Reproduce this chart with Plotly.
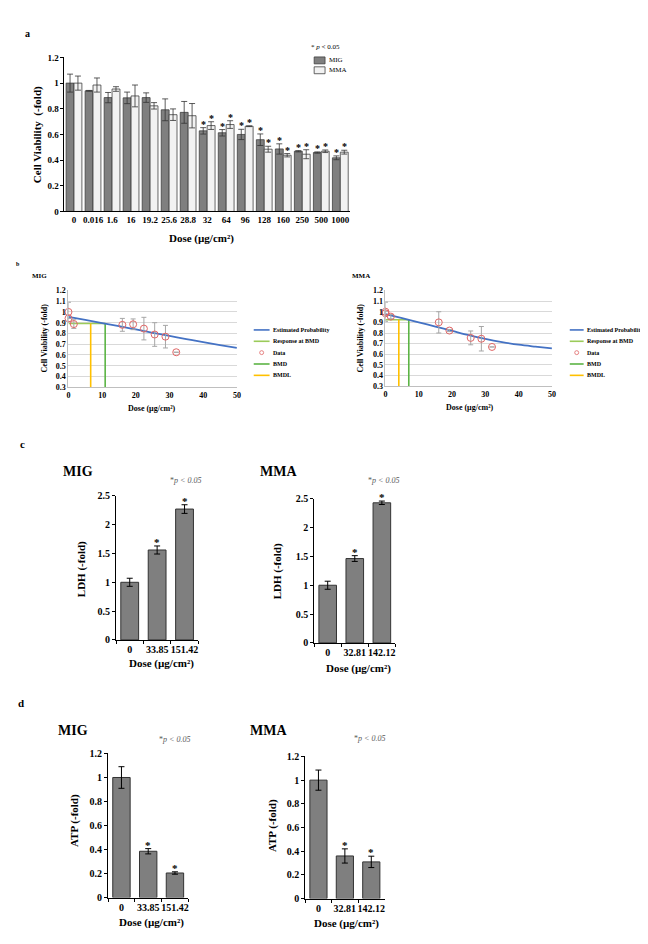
import plotly.graph_objects as go

W, H = 648, 944
SERIF = "Liberation Serif"

# ---- panel a: cell viability (MIG vs MMA)
doses_a = ["0", "0.016", "1.6", "16", "19.2", "25.6", "28.8", "32", "64", "96",
           "128", "160", "250", "500", "1000"]
mig_a = [1.0, 0.94, 0.887, 0.885, 0.887, 0.792, 0.772, 0.628, 0.613, 0.6,
         0.559, 0.487, 0.469, 0.459, 0.418]
mig_a_err = [0.07, 0.003, 0.04, 0.045, 0.037, 0.085, 0.085, 0.025, 0.025, 0.04,
             0.045, 0.04, 0.005, 0.005, 0.015]
mma_a = [1.0, 0.985, 0.954, 0.9, 0.823, 0.754, 0.746, 0.669, 0.677, 0.664,
         0.485, 0.438, 0.446, 0.469, 0.462]
mma_a_err = [0.055, 0.055, 0.018, 0.085, 0.025, 0.045, 0.095, 0.03, 0.03, 0.003,
             0.023, 0.013, 0.035, 0.01, 0.015]
sig_a = [7, 8, 9, 10, 11, 12, 13, 14]

# ---- panel b: benchmark dose fits
fit_dose = [0, 5, 10, 15, 20, 25, 30, 35, 40, 45, 50]
mig_fit = [0.955, 0.926, 0.897, 0.867, 0.837, 0.806, 0.777, 0.748, 0.72, 0.692, 0.665]
mma_fit = [0.978, 0.94, 0.9, 0.86, 0.82, 0.78, 0.745, 0.715, 0.69, 0.672, 0.656]
mig_b_dose = [0, 0.016, 1.6, 16, 19.2, 22.4, 25.6, 28.8, 32]
mig_b_resp = [1.0, 0.94, 0.887, 0.88, 0.885, 0.845, 0.79, 0.77, 0.625]
mig_b_err = [0.09, None, 0.04, 0.06, 0.05, 0.105, 0.11, 0.105, None]
mma_b_dose = [0, 0.016, 1.6, 16, 19.2, 25.6, 28.8, 32]
mma_b_resp = [1.0, 0.985, 0.954, 0.9, 0.823, 0.754, 0.746, 0.669]
mma_b_err = [0.09, 0.02, 0.02, 0.1, 0.01, 0.065, 0.115, None]
mig_bmd, mig_bmdl, mig_bmr = 10.9, 6.6, 0.893
mma_bmd, mma_bmdl, mma_bmr = 7.0, 4.0, 0.925
b_ymin = 0.3

# ---- panel c: LDH
c_mig_dose = ["0", "33.85", "151.42"]
c_mig_ldh = [1.0, 1.56, 2.27]
c_mig_err = [0.07, 0.07, 0.075]
c_mma_dose = ["0", "32.81", "142.12"]
c_mma_ldh = [1.0, 1.463, 2.43]
c_mma_err = [0.07, 0.05, 0.03]

# ---- panel d: ATP
d_mig_atp = [1.0, 0.386, 0.205]
d_mig_err = [0.09, 0.022, 0.01]
d_mma_atp = [1.0, 0.36, 0.31]
d_mma_err = [0.085, 0.06, 0.048]
sig_cd = [1, 2]

BAR_GREY = "#7F7F7F"
EDGE = "#404040"
RED = "#E06666"
BLUE = "#4472C4"
C_RESP = "#9BCB5A"
C_BMD = "#5CB445"
C_BMDL = "#FFC000"
DOSE_TITLE = "<b>Dose (µg/cm²)</b>"

fig = go.Figure()
ann = []
shapes = []
layout_axes = {}


def px(x):
    return x / W


def py(y):
    return 1 - y / H


def add_axes(i, box, xprops, yprops):
    x0, x1, y0, y1 = box
    s = "" if i == 1 else str(i)
    layout_axes["xaxis" + s] = dict(domain=[px(x0), px(x1)], anchor="y" + s, **xprops)
    layout_axes["yaxis" + s] = dict(domain=[py(y1), py(y0)], anchor="x" + s, **yprops)


def label(x, y, s, size, color="black", xanchor="center", angle=0):
    ann.append(dict(xref="paper", yref="paper", x=px(x), y=py(y), text=s,
                    showarrow=False, xanchor=xanchor, yanchor="middle", textangle=angle,
                    font=dict(family=SERIF, size=size, color=color)))


def star(i, x, y, size=11):
    s = "" if i == 1 else str(i)
    ann.append(dict(xref="x" + s, yref="y" + s, x=x, y=y, text="<b>*</b>",
                    showarrow=False, yanchor="bottom", yshift=-4,
                    font=dict(family=SERIF, size=size, color="black")))


def tickfont(size):
    return dict(family=SERIF, size=size, color="black", weight="bold")


def bar_x(size):
    return dict(type="category", showline=True, linecolor="black", linewidth=1,
                ticks="outside", tickson="boundaries", ticklen=3, tickcolor="black",
                tickangle=0, showgrid=False, zeroline=False, tickfont=tickfont(size))


def bar_y(rng, dt, size):
    return dict(range=rng, dtick=dt, showline=True, linecolor="black", linewidth=1,
                ticks="outside", ticklen=3, tickcolor="black", showgrid=False,
                zeroline=False, tickfont=tickfont(size))


err_style = dict(type="data", color="black", thickness=1, width=3)

# ===== panel a =====
add_axes(1, (55, 343, 44, 200), dict(bar_x(9), ticks=""), bar_y([0, 1.2], 0.2, 9))
fig.add_trace(go.Bar(x=doses_a, y=mig_a, width=0.415, offset=-0.415,
                     marker=dict(color=BAR_GREY, line=dict(color=EDGE, width=0.8)),
                     error_y=dict(err_style, array=mig_a_err, color="#333333", thickness=0.8),
                     xaxis="x", yaxis="y", showlegend=False))
fig.add_trace(go.Bar(x=doses_a, y=mma_a, width=0.415, offset=0,
                     marker=dict(color="#F2F2F2", line=dict(color=EDGE, width=0.8)),
                     error_y=dict(err_style, array=mma_a_err, color="#333333", thickness=0.8),
                     xaxis="x", yaxis="y", showlegend=False))
for i in sig_a:
    star(1, i - 0.2075, mig_a[i] + mig_a_err[i], 10)
    star(1, i + 0.2075, mma_a[i] + mma_a_err[i], 10)

label(18, 20, "<b>a</b>", 10)
label(28, 122, "<b>Cell Viability  (-fold)</b>", 11, angle=-90)
label(193, 227, DOSE_TITLE, 11)
label(318, 33, "* <i>p</i> < 0.05", 7)
for k, (name, fill) in enumerate([("MIG", BAR_GREY), ("MMA", "#F2F2F2")]):
    yc = 47 + 10 * k
    shapes.append(dict(type="rect", xref="paper", yref="paper", x0=px(307), x1=px(318),
                       y0=py(yc + 3.5), y1=py(yc - 3.5), fillcolor=fill,
                       line=dict(color=EDGE, width=0.8)))
    label(319.5, yc, name, 7, xanchor="left")

# ===== panel b =====
b_x = dict(range=[0, 50], dtick=10, showline=True, linecolor="#BFBFBF", linewidth=1,
           showgrid=False, zeroline=False, ticks="", tickfont=tickfont(8))
b_y = dict(range=[b_ymin, 1.2], dtick=0.1, showline=True, linecolor="#BFBFBF", linewidth=1,
           showgrid=True, gridcolor="#D9D9D9", gridwidth=0.8, zeroline=False, ticks="",
           tickfont=tickfont(8))
add_axes(2, (59, 229, 280, 378), b_x, b_y)
add_axes(3, (379, 547, 280, 377), b_x, b_y)

panels_b = [
    ("x2", "y2", fit_dose, mig_fit, mig_b_dose, mig_b_resp, mig_b_err, mig_bmd, mig_bmdl, mig_bmr),
    ("x3", "y3", fit_dose, mma_fit, mma_b_dose, mma_b_resp, mma_b_err, mma_bmd, mma_bmdl, mma_bmr),
]
for xa, ya, fd, fv, dd, dv, de, bmd, bmdl, bmr in panels_b:
    fig.add_trace(go.Scatter(x=[0, bmd], y=[bmr, bmr], mode="lines",
                             line=dict(color=C_RESP, width=1.6), xaxis=xa, yaxis=ya,
                             showlegend=False, cliponaxis=False))
    fig.add_trace(go.Scatter(x=[bmd, bmd], y=[b_ymin, bmr], mode="lines",
                             line=dict(color=C_BMD, width=1.6), xaxis=xa, yaxis=ya,
                             showlegend=False))
    fig.add_trace(go.Scatter(x=[bmdl, bmdl], y=[b_ymin, bmr], mode="lines",
                             line=dict(color=C_BMDL, width=1.6), xaxis=xa, yaxis=ya,
                             showlegend=False))
    fig.add_trace(go.Scatter(x=fd, y=fv, mode="lines",
                             line=dict(color=BLUE, width=1.8, shape="spline"),
                             xaxis=xa, yaxis=ya, showlegend=False, cliponaxis=False))
    fig.add_trace(go.Scatter(x=dd, y=dv, mode="markers",
                             marker=dict(symbol="circle-open", size=7, color=RED,
                                         line=dict(width=1)),
                             error_y=dict(type="data", array=de, color="#A6A6A6",
                                          thickness=1, width=2.5),
                             xaxis=xa, yaxis=ya, showlegend=False, cliponaxis=False))

label(8, 253, "<b>b</b>", 6)
label(30, 265, "<b>MIG</b>", 7)
label(354, 265, "<b>MMA</b>", 7)
label(35, 328, "<b>Cell Viability (-fold)</b>", 8, angle=-90)
label(354, 328, "<b>Cell Viability (-fold)</b>", 8, angle=-90)
label(143, 400, DOSE_TITLE, 8)
label(464, 399, DOSE_TITLE, 8)

legend_b = [("Estimated Probability", BLUE, "line"), ("Response at BMD", C_RESP, "line"),
            ("Data", RED, "circle"), ("BMD", C_BMD, "line"), ("BMDL", C_BMDL, "line")]
for lx0, lx1 in [(246, 262), (565, 579)]:
    for k, (name, col, kind) in enumerate(legend_b):
        yc = 320 + 11.5 * k
        if kind == "line":
            shapes.append(dict(type="line", xref="paper", yref="paper", x0=px(lx0),
                               x1=px(lx1), y0=py(yc), y1=py(yc),
                               line=dict(color=col, width=1.6)))
        else:
            cx = (lx0 + lx1) / 2
            shapes.append(dict(type="circle", xref="paper", yref="paper", x0=px(cx - 2),
                               x1=px(cx + 2), y0=py(yc + 2), y1=py(yc - 2),
                               line=dict(color=col, width=0.8)))
        label(lx1 + 1, yc, "<b>%s</b>" % name, 6, xanchor="left")

# ===== panels c and d =====
small = [
    (4, (107, 190, 488, 634), [0, 2.5], 0.5, c_mig_dose, c_mig_ldh, c_mig_err),
    (5, (307, 389, 491, 637), [0, 2.5], 0.5, c_mma_dose, c_mma_ldh, c_mma_err),
    (6, (99, 180, 749, 895), [0, 1.2], 0.2, c_mig_dose, d_mig_atp, d_mig_err),
    (7, (298, 378, 752, 896), [0, 1.2], 0.2, c_mma_dose, d_mma_atp, d_mma_err),
]
for i, box, rng, dt, cats, vals, errs in small:
    add_axes(i, box, bar_x(10), bar_y(rng, dt, 10))
    fig.add_trace(go.Bar(x=cats, y=vals, width=0.65,
                         marker=dict(color=BAR_GREY, line=dict(color="#333333", width=1)),
                         error_y=dict(err_style, array=errs),
                         xaxis="x%d" % i, yaxis="y%d" % i, showlegend=False))
    for j in sig_cd:
        star(i, j, vals[j] + errs[j], 11)

label(13, 436, "<b>c</b>", 11)
label(69, 463, "<b>MIG</b>", 14)
label(271, 463, "<b>MMA</b>", 14)
label(177, 473, "*<i>p < 0.05</i>", 8, color="#595959")
label(377, 473, "*<i>p < 0.05</i>", 8, color="#595959")
label(73, 562, "<b>LDH (-fold)</b>", 11, angle=-90)
label(270, 565, "<b>LDH (-fold)</b>", 11, angle=-90)
label(153, 658, DOSE_TITLE, 11)
label(352, 663, DOSE_TITLE, 11)

label(11, 698, "<b>d</b>", 11)
label(64, 726, "<b>MIG</b>", 14)
label(261, 726, "<b>MMA</b>", 14)
label(166, 735, "*<i>p < 0.05</i>", 8, color="#595959")
label(363, 734, "*<i>p < 0.05</i>", 8, color="#595959")
label(65, 817, "<b>ATP (-fold)</b>", 11, angle=-90)
label(265, 822, "<b>ATP (-fold)</b>", 11, angle=-90)
label(143, 920, DOSE_TITLE, 11)
label(340, 921, DOSE_TITLE, 11)

fig.update_layout(width=W, height=H, margin=dict(l=0, r=0, t=0, b=0),
                  paper_bgcolor="white", plot_bgcolor="white", barmode="overlay",
                  font=dict(family=SERIF, color="black"),
                  annotations=ann, shapes=shapes, showlegend=False, **layout_axes)

fig.write_html("out.html")
